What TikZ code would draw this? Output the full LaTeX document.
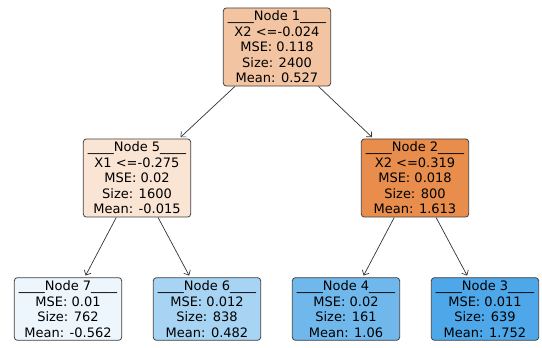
\documentclass[tikz,border=0pt]{standalone}
\usepackage{fontspec}
\setmainfont{DejaVu Sans}
\usetikzlibrary{%
  arrows.meta,%
  positioning%
}
\definecolor{fillone}{HTML}{F3C4A2}
\definecolor{fillfive}{HTML}{FAE4D4}
\definecolor{filltwo}{HTML}{E88D4C}
\definecolor{fillseven}{HTML}{EEF6FD}
\definecolor{fillsix}{HTML}{A8D4F4}
\definecolor{fillfour}{HTML}{70B8EC}
\definecolor{fillthree}{HTML}{4EA7E8}
\begin{document}
\begin{tikzpicture}[
  x=1pt, y=-1pt,
  font=\fontsize{13}{15.5}\selectfont,
  >={Straight Barb[length=4pt,width=7.5pt]},
  box/.style={draw=black!75, line width=0.8pt, rounded corners=3pt,
    align=center, inner xsep=4.5pt, inner ysep=3pt},
  edge/.style={->, draw=black!80, line width=0.7pt, shorten >=2pt},
]
\useasboundingbox (0,0) rectangle (542,348);

% root
\node[box,fill=fillone] (n1) at (277,47)
  {\_\_\_\_Node 1\_\_\_\_\\X2 <=-0.024\\MSE: 0.118\\Size: 2400\\Mean: 0.527};

% second level
\node[box,fill=fillfive] (n5) at (137,178)
  {\_\_\_\_Node 5\_\_\_\_\\X1 <=-0.275\\MSE: 0.02\\Size: 1600\\Mean: -0.015};
\node[box,fill=filltwo] (n2) at (415,178)
  {\_\_\_\_Node 2\_\_\_\_\\X2 <=0.319\\MSE: 0.018\\Size: 800\\Mean: 1.613};

% leaves
\node[box,fill=fillseven] (n7) at (68,309)
  {\_\_\_\_Node 7\_\_\_\_\\MSE: 0.01\\Size: 762\\Mean: -0.562};
\node[box,fill=fillsix] (n6) at (207,309)
  {\_\_\_\_Node 6\_\_\_\_\\MSE: 0.012\\Size: 838\\Mean: 0.482};
\node[box,fill=fillfour] (n4) at (346,309)
  {\_\_\_\_Node 4\_\_\_\_\\MSE: 0.02\\Size: 161\\Mean: 1.06};
\node[box,fill=fillthree] (n3) at (485,309)
  {\_\_\_\_Node 3\_\_\_\_\\MSE: 0.011\\Size: 639\\Mean: 1.752};

\draw[edge] (n1) -- (n5);
\draw[edge] (n1) -- (n2);
\draw[edge] (n5) -- (n7);
\draw[edge] (n5) -- (n6);
\draw[edge] (n2) -- (n4);
\draw[edge] (n2) -- (n3);

\end{tikzpicture}
\end{document}
